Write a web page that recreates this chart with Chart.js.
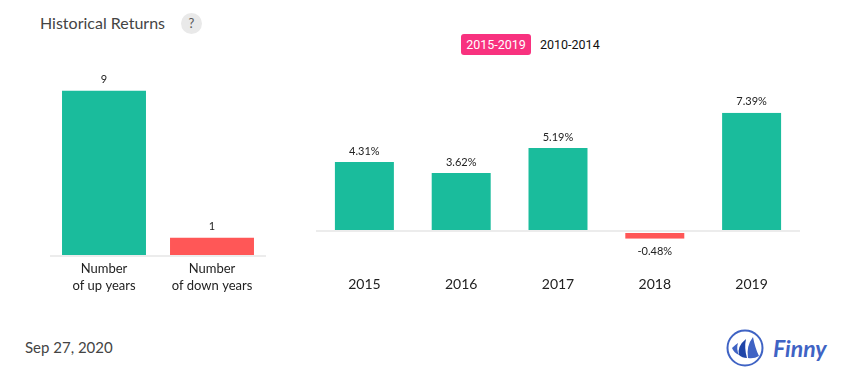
<!DOCTYPE html>
<html lang="en">
  <head>
    <meta charset="UTF-8" />
    <title>Historical Returns</title>
    <style>
      html, body { margin: 0; padding: 0; background: #fff; overflow: hidden; }
      body { width: 855px; height: 382px; position: relative; font-family: Lato, sans-serif; }
      .abs { position: absolute; white-space: nowrap; }
      #title { left: 40px; top: 13px; font-size: 16px; line-height: 20px; color: #444; }
      #help { left: 181px; top: 13px; width: 21px; height: 21px; line-height: 21px; border-radius: 50%; background: #e9e9e9; color: #555; font-size: 13px; text-align: center; }
      #btnActive { left: 461px; top: 34px; width: 70px; height: 21px; border-radius: 3px; background: #f8327f; color: #fff; font: 12.5px/21px Roboto, sans-serif; text-align: center; }
      #btnOther { left: 540px; top: 34px; font: 12.5px/21px Roboto, sans-serif; color: #111; }
      #date { left: 25px; top: 337px; font-size: 15px; line-height: 20px; color: #444; }
      #countWrap { left: 50px; top: 72px; width: 216px; height: 229px; }
      #yearWrap { left: 316px; top: 71px; width: 484px; height: 229px; }
      #logo { left: 726px; top: 328px; }
    </style>
  </head>
  <body>
    <div class="abs" id="title">Historical Returns</div>
    <div class="abs" id="help">?</div>
    <div class="abs" id="btnActive">2015-2019</div>
    <div class="abs" id="btnOther">2010-2014</div>
    <div class="abs" id="countWrap"><canvas id="countChart"></canvas></div>
    <div class="abs" id="yearWrap"><canvas id="yearChart"></canvas></div>
    <div class="abs" id="date">Sep 27, 2020</div>
    <svg class="abs" id="logo" width="105" height="40" viewBox="0 0 105 40">
      <circle cx="19" cy="20" r="17.5" fill="none" stroke="#3f63c4" stroke-width="2" />
      <path d="M6 20 Q9 17 12 15 Q10 21 13 27 Q8 25 6 20Z" fill="#3f63c4" />
      <path d="M13 27 Q11 18 20 11 Q18 20 21 30 Q16 30 13 27Z" fill="#1f45a8" />
      <path d="M22 30 Q20 18 27 9 Q29 20 33 28 Q28 31 22 30Z" fill="#3f63c4" />
      <text x="47" y="29" font-family="Lato" font-style="italic" font-weight="700" font-size="23" fill="#3f63c4">Finny</text>
    </svg>
    <script src="https://cdn.jsdelivr.net/npm/chart.js@4"></script>
    <script>
      const countLabels = [['Number', 'of up years'], ['Number', 'of down years']];
      const countValues = [9, 1];
      const years = ['2015', '2016', '2017', '2018', '2019'];
      const returns = [4.31, 3.62, 5.19, -0.48, 7.39];

      const green = '#1abc9c';
      const red = '#ff5757';

      // prints the value above a bar, or below it when negative
      const barLabels = {
        id: 'barLabels',
        afterDatasetsDraw(chart, args, opts) {
          const ctx = chart.ctx;
          const values = chart.data.datasets[0].data;
          ctx.save();
          ctx.font = '11px Lato';
          ctx.fillStyle = '#222';
          ctx.textAlign = 'center';
          ctx.textBaseline = 'middle';
          chart.getDatasetMeta(0).data.forEach((bar, i) => {
            const v = values[i];
            const y = v < 0 ? bar.y + 13 : bar.y - 11;
            ctx.fillText(v + opts.suffix, bar.x, y);
          });
          ctx.restore();
        },
      };

      function makeChart(id, labels, values, o) {
        return new Chart(document.getElementById(id), {
          type: 'bar',
          data: {
            labels: labels,
            datasets: [
              {
                data: values,
                backgroundColor: values.map((v, i) => (o.colors ? o.colors[i] : v < 0 ? red : green)),
                borderColor: '#fff',
                // white side edges cut the zero line next to each bar
                borderWidth: values.map((v) => ({ left: 1, right: 1, top: v < 0 ? 1 : 0, bottom: 0 })),
                borderSkipped: false,
                barPercentage: o.barPercentage,
                categoryPercentage: 1,
              },
            ],
          },
          plugins: [barLabels],
          options: {
            animation: { duration: 0 },
            responsive: true,
            maintainAspectRatio: false,
            layout: { padding: 0 },
            plugins: {
              legend: { display: false },
              tooltip: { enabled: false },
              title: { display: false },
              barLabels: { suffix: o.suffix },
            },
            scales: {
              x: {
                afterFit(scale) {
                  scale.height = o.axisHeight;
                },
                grid: { display: false, drawTicks: false },
                border: { display: false },
                ticks: {
                  color: '#222',
                  padding: o.tickPadding,
                  maxRotation: 0,
                  autoSkip: false,
                  font: { family: 'Lato', size: o.tickSize, lineHeight: o.tickLine },
                },
              },
              y: {
                min: o.min,
                max: o.max,
                display: true,
                afterFit(scale) {
                  scale.width = 0;
                },
                ticks: { display: false, stepSize: 1 },
                border: { display: false },
                grid: {
                  drawTicks: false,
                  lineWidth: 2,
                  color: (c) => (c.tick.value === 0 ? '#ececec' : 'rgba(0,0,0,0)'),
                },
              },
            },
          },
        });
      }

      makeChart('countChart', countLabels, countValues, {
        colors: [green, red],
        barPercentage: 0.796,
        suffix: '',
        min: 0,
        max: 10,
        axisHeight: 45,
        tickPadding: 4,
        tickSize: 13,
        tickLine: 1.3,
      });
      makeChart('yearChart', years, returns, {
        barPercentage: 0.63,
        suffix: '%',
        min: -2,
        max: 10,
        axisHeight: 37,
        tickPadding: 13,
        tickSize: 14,
        tickLine: 1.2,
      });
    </script>
  </body>
</html>
